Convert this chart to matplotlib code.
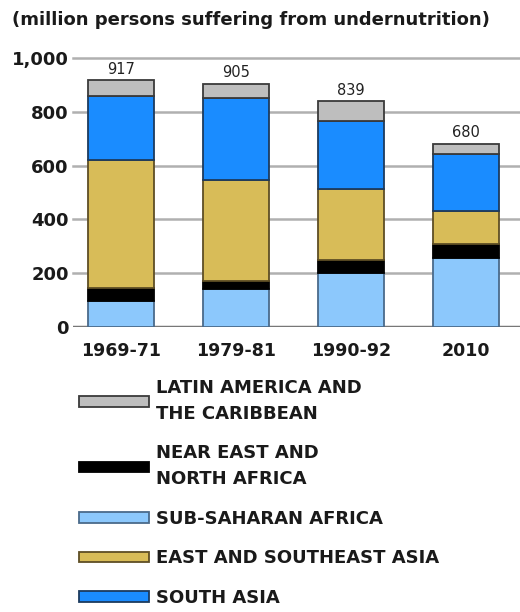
import numpy as np
import matplotlib
matplotlib.use('Agg')
import matplotlib.pyplot as plt
from matplotlib.patches import Patch

plt.rcParams['font.family'] = ['DejaVu Sans']

periods = ['1969-71', '1979-81', '1990-92', '2010']
totals = [917, 905, 839, 680]

# stacked bottom to top
sub_saharan = [95, 142, 202, 255]
near_east = [50, 28, 46, 52]
east_se_asia = [475, 377, 265, 125]
south_asia = [237, 304, 253, 210]
latin_america = [60, 54, 73, 38]

series = [
    ('SUB-SAHARAN AFRICA', sub_saharan, '#8cc8fc', '#4a6a8a'),
    ('NEAR EAST AND\nNORTH AFRICA', near_east, '#000000', '#000000'),
    ('EAST AND SOUTHEAST ASIA', east_se_asia, '#d8bc58', '#5e4e25'),
    ('SOUTH ASIA', south_asia, '#1a8cff', '#1d3b5e'),
    ('LATIN AMERICA AND\nTHE CARIBBEAN', latin_america, '#bebebe', '#3a3a3a'),
]
legend_order = [4, 1, 0, 2, 3]

fig = plt.figure(figsize=(5.2, 6.12), dpi=100)
ax = fig.add_axes([0.1404, 0.4657, 0.8596, 0.4439])

x = np.arange(len(periods))
bottom = np.zeros(len(periods))
for name, vals, fc, ec in series:
    ax.bar(x, vals, width=0.574, bottom=bottom, color=fc, edgecolor=ec,
           linewidth=1.3, zorder=3)
    bottom += np.array(vals)

for xi, t in zip(x, totals):
    ax.text(xi, t + 14, str(t), ha='center', va='bottom', fontsize=10.5,
            color='#222222', zorder=4)

for v in [200, 400, 600, 800, 1000]:
    ax.axhline(v, color='#b0b0b0', linewidth=1.8, zorder=1, clip_on=False)
ax.axhline(0, color='#777777', linewidth=2.5, zorder=2)

ax.set_xlim(-0.417, 3.474)
ax.set_ylim(0, 1010)
ax.set_yticks([0, 200, 400, 600, 800, 1000])
ax.set_yticklabels(['0', '200', '400', '600', '800', '1,000'])
ax.set_xticks(x)
ax.set_xticklabels(periods)
ax.tick_params(axis='both', length=0, colors='#1a1a1a')
ax.tick_params(axis='y', pad=3, labelsize=13)
ax.tick_params(axis='x', pad=11, labelsize=12.5)
for lab in ax.get_xticklabels() + ax.get_yticklabels():
    lab.set_fontweight('bold')
for s in ax.spines.values():
    s.set_visible(False)

fig.text(0.023, 0.967, '(million persons suffering from undernutrition)',
         fontsize=13, fontweight='bold', color='#1a1a1a', va='center')

handles = [Patch(facecolor=series[i][2], edgecolor=series[i][3], linewidth=1.3)
           for i in legend_order]
labels = [series[i][0] for i in legend_order]
leg = fig.legend(handles, labels, loc='upper left', bbox_to_anchor=(0.138, 0.393),
                 frameon=False, fontsize=13, handlelength=3.9, handleheight=0.55,
                 handletextpad=0.35, labelspacing=1.19, borderaxespad=0)
for t in leg.get_texts():
    t.set_fontweight('bold')
    t.set_color('#1a1a1a')
    t.set_linespacing(1.58)

fig.savefig('out.png', dpi=100)
